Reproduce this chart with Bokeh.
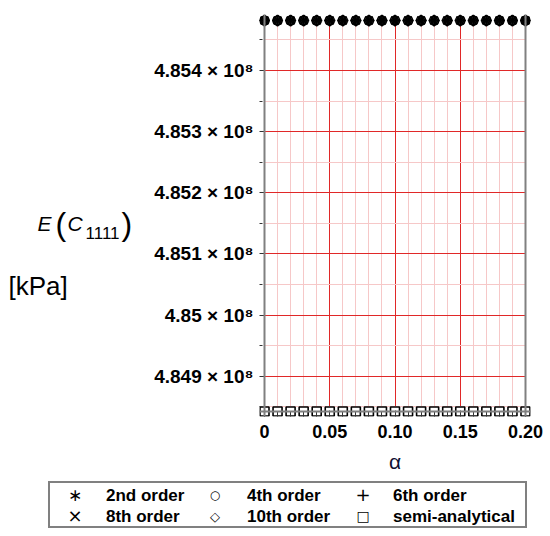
from bokeh.plotting import figure
from bokeh.layouts import column
from bokeh.models import Range1d, FixedTicker, Label, Span, Div
from bokeh.embed import file_html
from bokeh.resources import INLINE

# ---------------- data ----------------
alpha = [0.00, 0.01, 0.02, 0.03, 0.04, 0.05, 0.06, 0.07, 0.08, 0.09, 0.10,
         0.11, 0.12, 0.13, 0.14, 0.15, 0.16, 0.17, 0.18, 0.19, 0.20]
order2 = [485481800, 485481800, 485481800, 485481800, 485481800, 485481800, 485481800,
          485481800, 485481800, 485481800, 485481800, 485481800, 485481800, 485481800,
          485481800, 485481800, 485481800, 485481800, 485481800, 485481800, 485481800]
order4 = [485481800, 485481800, 485481800, 485481800, 485481800, 485481800, 485481800,
          485481800, 485481800, 485481800, 485481800, 485481800, 485481800, 485481800,
          485481800, 485481800, 485481800, 485481800, 485481800, 485481800, 485481800]
order6 = [485481800, 485481800, 485481800, 485481800, 485481800, 485481800, 485481800,
          485481800, 485481800, 485481800, 485481800, 485481800, 485481800, 485481800,
          485481800, 485481800, 485481800, 485481800, 485481800, 485481800, 485481800]
order8 = [485481800, 485481800, 485481800, 485481800, 485481800, 485481800, 485481800,
          485481800, 485481800, 485481800, 485481800, 485481800, 485481800, 485481800,
          485481800, 485481800, 485481800, 485481800, 485481800, 485481800, 485481800]
order10 = [485481800, 485481800, 485481800, 485481800, 485481800, 485481800, 485481800,
           485481800, 485481800, 485481800, 485481800, 485481800, 485481800, 485481800,
           485481800, 485481800, 485481800, 485481800, 485481800, 485481800, 485481800]
semi_analytical = [484842300, 484842300, 484842300, 484842300, 484842300, 484842300, 484842300,
                   484842300, 484842300, 484842300, 484842300, 484842300, 484842300, 484842300,
                   484842300, 484842300, 484842300, 484842300, 484842300, 484842300, 484842300]

series_names = ["2nd order", "4th order", "6th order", "8th order", "10th order", "semi-analytical"]
series_markers = ["asterisk", "circle", "cross", "x", "diamond", "square"]
legend_symbols = ["∗", "○", "+", "×", "◇", "□"]

x_ticks = [0.0, 0.05, 0.1, 0.15, 0.2]
x_tick_labels = ["0", "0.05", "0.10", "0.15", "0.20"]
x_minor_ticks = [0.01, 0.02, 0.03, 0.04, 0.06, 0.07, 0.08, 0.09,
                 0.11, 0.12, 0.13, 0.14, 0.16, 0.17, 0.18, 0.19]
y_ticks = [484900000, 485000000, 485100000, 485200000, 485300000, 485400000]
y_tick_labels = ["4.849 × 10⁸", "4.85 × 10⁸", "4.851 × 10⁸", "4.852 × 10⁸",
                 "4.853 × 10⁸", "4.854 × 10⁸"]
y_minor_ticks = [484850000, 484950000, 485050000, 485150000, 485250000, 485350000,
                 485450000]

x_label = "α"
y_label_parts = ["E", "(", "C", "1111", ")"]
unit_label = "[kPa]"

# ---------------- layout ----------------
FONT = "Liberation Sans"
AX = "#808080"
xmin, xmax = min(alpha), max(alpha)
all_y = order2 + order4 + order6 + order8 + order10 + semi_analytical
ymin, ymax = min(all_y), max(all_y)
DX, DY = 261.0, 391.0           # pixels spanned by the data box
xr = Range1d(xmin - 5 / DX * (xmax - xmin), xmax + 5 / DX * (xmax - xmin))
yr = Range1d(ymin - 5 / DY * (ymax - ymin), ymax + 6 / DY * (ymax - ymin))

FL, FT, FW, FH = 259, 14, 271, 402   # frame box in canvas px
TOTAL_W = 544
MAIN_H = 478


def px_x(px):
    return xr.start + (px - FL) / FW * (xr.end - xr.start)


def px_y(py):
    return yr.end - (py - FT) / FH * (yr.end - yr.start)


p = figure(x_range=xr, y_range=yr, frame_width=FW, frame_height=FH,
           min_border_left=FL, min_border_top=FT, min_border_right=TOTAL_W - FL - FW,
           min_border_bottom=MAIN_H - FT - FH, output_backend="svg",
           toolbar_location=None, background_fill_color="white",
           border_fill_color="white")
p.outline_line_color = None

xt = FixedTicker(ticks=x_ticks, minor_ticks=x_minor_ticks)
yt = FixedTicker(ticks=y_ticks, minor_ticks=y_minor_ticks)

for ax in (p.xaxis[0], p.yaxis[0]):
    ax.axis_line_color = None
    ax.major_tick_line_color = "#333333"
    ax.minor_tick_line_color = "#333333"
    ax.major_tick_out = 0
    ax.minor_tick_out = 0
    ax.major_label_text_font = FONT
    ax.major_label_text_font_style = "bold"
    ax.major_label_text_color = "black"

xa = p.xaxis[0]
xa.ticker = xt
xa.major_tick_in = 6
xa.minor_tick_in = 5
xa.major_label_overrides = {t: s for t, s in zip(x_ticks, x_tick_labels)}
xa.major_label_text_font_size = "18px"
xa.major_label_standoff = 8
xa.axis_label = x_label
xa.axis_label_text_font = FONT
xa.axis_label_text_font_style = "normal"
xa.axis_label_text_font_size = "21px"
xa.axis_label_text_color = "#111133"
xa.axis_label_standoff = 9

ya = p.yaxis[0]
ya.ticker = yt
ya.major_tick_in = 5
ya.minor_tick_in = 3
ya.major_label_overrides = {t: s for t, s in zip(y_ticks, y_tick_labels)}
ya.major_label_text_font_size = "19px"
ya.major_label_standoff = 6

# grids
p.xgrid.ticker = xt
p.ygrid.ticker = yt
for g in (p.xgrid[0], p.ygrid[0]):
    g.grid_line_color = "#e02828"
    g.grid_line_alpha = 1.0
    g.grid_line_width = 1
    g.minor_grid_line_color = "#f6c8c8"
    g.minor_grid_line_width = 1
try:
    p.xgrid[0].cross_bounds = (ymin, ymax)
    p.ygrid[0].cross_bounds = (xmin, xmax)
except Exception:
    pass

# box lines of the plotting area
for loc, dim in ((xmin, "height"), (xmax, "height"), (ymin, "width")):
    p.add_layout(Span(location=loc, dimension=dim, line_color=AX, line_width=2))

# markers
series = [order2, order4, order6, order8, order10, semi_analytical]
sizes = [11, 9, 11, 10, 11, 9]
fills = [None, None, None, None, None, "white"]
for ys, mk, sz, fc in zip(series, series_markers, sizes, fills):
    p.scatter(alpha, ys, marker=mk, size=sz, line_color="black", fill_color=fc,
              line_width=1.6)

# y axis title (placed in the left side panel so it is not clipped to the frame)
parts_style = [
    (37, 223, "italic", "21px"),
    (55, 223, "normal", "32px"),
    (67, 223, "italic", "21px"),
    (85, 232, "normal", "17px"),
    (121, 223, "normal", "32px"),
]
for txt, (px, py, st, sz) in zip(y_label_parts, parts_style):
    p.add_layout(Label(x=px_x(px), y=px_y(py), text=txt, text_font=FONT,
                       text_font_style=st, text_font_size=sz, text_baseline="middle",
                       text_align="left", text_color="black"), "left")
p.add_layout(Label(x=px_x(8), y=px_y(285), text=unit_label, text_font=FONT,
                   text_font_size="26px", text_baseline="middle", text_align="left",
                   text_color="black"), "left")

# ---------------- legend box below the plot ----------------
col_marker_x = [25, 165, 313]
col_text_x = [56, 197, 343]
row_y = [11.5, 33]
sym_sizes = ["17px", "12px", "18px", "18px", "13px", "14px"]
spans = []
for i, (name, sym, ssz) in enumerate(zip(series_names, legend_symbols, sym_sizes)):
    r, c = divmod(i, 3)
    spans.append(
        f'<span style="position:absolute;left:{col_marker_x[c]}px;top:{row_y[r]}px;'
        f'transform:translate(-50%,-50%);line-height:1;font-weight:normal;'
        f'font-size:{ssz};font-family:\'DejaVu Sans\';">{sym}</span>')
    spans.append(
        f'<span style="position:absolute;left:{col_text_x[c]}px;top:{row_y[r]}px;'
        f'transform:translateY(-50%);line-height:1;white-space:nowrap;">{name}</span>')
legend_html = (
    f'<div style="position:relative;box-sizing:border-box;width:479px;height:47px;'
    f'border:2px solid {AX};background:white;color:black;font-family:\'{FONT}\';'
    f'font-weight:bold;font-size:17px;">' + "".join(spans) + '</div>')
legend_div = Div(text=legend_html, width=479, height=47, margin=(3, 0, 0, 48))

open("out.html", "w").write(file_html(column(p, legend_div, spacing=0), INLINE))
